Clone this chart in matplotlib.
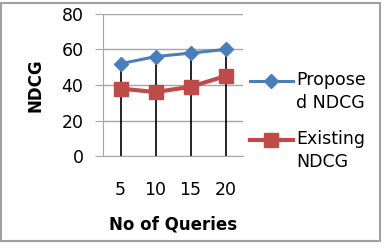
import matplotlib
matplotlib.use('Agg')
import matplotlib.pyplot as plt
from matplotlib.patches import Rectangle
from matplotlib.lines import Line2D
from matplotlib.legend_handler import HandlerLine2D

# ------------------------------ data -------------------------------
queries = ['5', '10', '15', '20']
proposed = [52, 56, 58, 60]
existing = [38, 36, 39, 45]
labels = ['Propose\nd NDCG', 'Existing\nNDCG']
yticks = [0, 20, 40, 60, 80]
# -------------------------------------------------------------------

BLUE = '#4a7ebb'
RED = '#be4b48'
GRID = '#a6a6a6'
FS = 12.5


class FirstLineHandler(HandlerLine2D):
    """Legend handle aligned with the first line of a two-line label."""
    def create_artists(self, *args, **kw):
        arts = super().create_artists(*args, **kw)
        for a in arts:
            if isinstance(a, Line2D):
                a.set_ydata([y + 0.68 * FS for y in a.get_ydata()])
        return arts


plt.rcParams['font.family'] = ['DejaVu Sans']
W, H = 384, 246
fig = plt.figure(figsize=(W / 100, H / 100), dpi=100)
fig.patch.set_facecolor('white')

# outer chart frame
fig.add_artist(Rectangle((1 / W, 5 / H), 379 / W, 238 / H, transform=fig.transFigure,
                         fill=False, edgecolor='#a0a0a0', lw=1.5))

ax = fig.add_axes([103 / W, (H - 156) / H, 140 / W, 142 / H])
x = list(range(len(queries)))

ax.vlines(x, 0, proposed, color='black', lw=1.2, zorder=2)
l1, = ax.plot(x, proposed, color=BLUE, lw=2.2, marker='D', ms=7, zorder=3)
l2, = ax.plot(x, existing, color=RED, lw=3, marker='s', ms=10, zorder=3)

ax.set_xlim(-0.5, len(queries) - 0.5)
ax.set_ylim(0, 80)
ax.set_yticks(yticks)
ax.set_xticks(x)
ax.set_xticklabels(queries)
ax.grid(axis='y', color=GRID, lw=1)
ax.set_axisbelow(True)
for s in ['top', 'right']:
    ax.spines[s].set_visible(False)
ax.spines['left'].set_color(GRID)
ax.spines['bottom'].set_color(GRID)
ax.tick_params(axis='y', length=6, color=GRID, labelsize=FS, pad=8)
ax.tick_params(axis='x', length=0, labelsize=FS, pad=18)

ax.set_ylabel('NDCG', fontsize=12, fontweight='bold', labelpad=12)
ax.set_xlabel('No of Queries', fontsize=12, fontweight='bold', labelpad=12)

leg = fig.legend([l1, l2], labels, loc='upper left', bbox_to_anchor=(234 / W, (H - 55) / H),
                 frameon=False, fontsize=FS, handlelength=2.5, handletextpad=0.2,
                 labelspacing=1.0, handler_map={Line2D: FirstLineHandler()})
for t in leg.get_texts():
    t.set_linespacing(1.4)

fig.savefig('out.png', dpi=100, facecolor='white')
